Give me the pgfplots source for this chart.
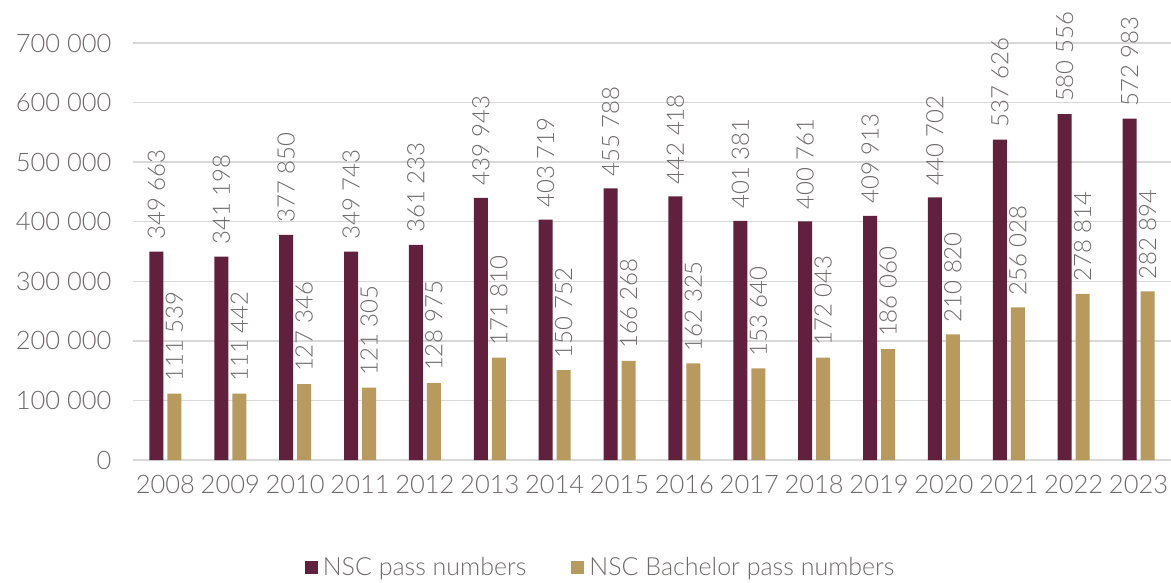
\documentclass[border=0pt]{standalone}
\usepackage{pgfplots}
\pgfplotsset{compat=1.18}
\usepackage{fontspec}
\setmainfont{Lato Light}
\definecolor{maroon}{HTML}{61203B}
\definecolor{gold}{HTML}{B89A5F}
\definecolor{txt}{RGB}{112,107,107}
\definecolor{gridc}{RGB}{217,217,217}
\newcommand\fs[1]{\fontsize{#1}{#1}\selectfont}
\begin{document}
\begin{tikzpicture}
\useasboundingbox (-133pt,-122pt) rectangle (1038pt,460pt);
\begin{axis}[
  at={(0pt,0pt)}, anchor=south west,
  scale only axis, width=1038pt, height=417pt,
  xmin=-0.5, xmax=15.5, ymin=0, ymax=700000,
  ybar, bar width=14pt,
  axis line style={draw=none},
  major tick length=0pt,
  xtick={0,...,15},
  xticklabels={2008,2009,2010,2011,2012,2013,2014,2015,2016,2017,2018,2019,2020,2021,2022,2023},
  ytick={0,100000,...,700000},
  scaled y ticks=false,
  ymajorgrids, major grid style={gridc, line width=1.5pt},
  /pgf/number format/assume math mode=true,
  /pgf/number format/fixed, /pgf/number format/precision=0, /pgf/number format/1000 sep={\ },
  ticklabel style={font=\fs{25.5}, text=txt},
  xticklabel style={yshift=-12pt},
  yticklabel style={xshift=-18pt},
  clip=false,
  nodes near coords={\pgfmathprintnumber[fixed,precision=0,1000 sep={\ },assume math mode=true]{\pgfplotspointmeta}},
  nodes near coords style={rotate=90, anchor=west, inner xsep=12pt, font=\fs{24}, text=txt},
  legend style={draw=none, fill=none, at={(axis description cs:0.452,-0.257)}, anchor=center,
    font=\fs{25}, text=txt, legend columns=2,
    nodes={inner xsep=5pt},
    /tikz/every even column/.append style={column sep=40pt}},
  legend image code/.code={\fill[#1] (0pt,-6.5pt) rectangle (13pt,6.5pt);},
]
\addplot[fill=maroon, draw=none, bar shift=-9pt] coordinates {
(0,349663) (1,341198) (2,377850) (3,349743) (4,361233) (5,439943) (6,403719) (7,455788)
(8,442418) (9,401381) (10,400761) (11,409913) (12,440702) (13,537626) (14,580556) (15,572983)};
\addplot[fill=gold, draw=none, bar shift=9pt] coordinates {
(0,111539) (1,111442) (2,127346) (3,121305) (4,128975) (5,171810) (6,150752) (7,166268)
(8,162325) (9,153640) (10,172043) (11,186060) (12,210820) (13,256028) (14,278814) (15,282894)};
\legend{NSC pass numbers, NSC Bachelor pass numbers}
\end{axis}
\end{tikzpicture}
\end{document}
